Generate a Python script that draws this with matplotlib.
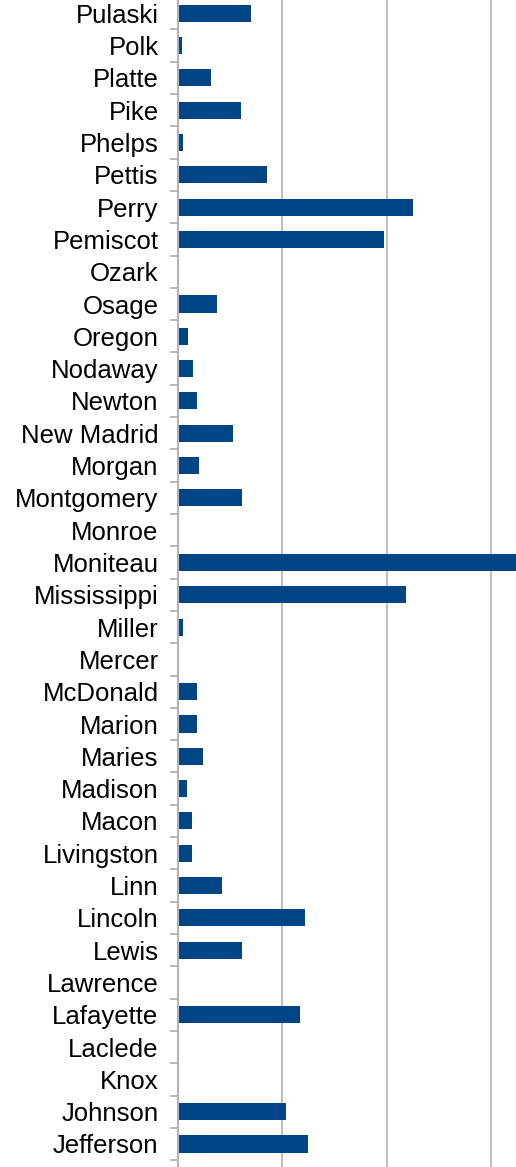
import numpy as np
import matplotlib
matplotlib.use('Agg')
import matplotlib.pyplot as plt
from matplotlib.ticker import FixedLocator, MultipleLocator

# Counties, bottom to top
counties = ['Jefferson', 'Johnson', 'Knox', 'Laclede', 'Lafayette', 'Lawrence',
            'Lewis', 'Lincoln', 'Linn', 'Livingston', 'Macon', 'Madison',
            'Maries', 'Marion', 'McDonald', 'Mercer', 'Miller', 'Mississippi',
            'Moniteau', 'Monroe', 'Montgomery', 'Morgan', 'New Madrid', 'Newton',
            'Nodaway', 'Oregon', 'Osage', 'Ozark', 'Pemiscot', 'Perry',
            'Pettis', 'Phelps', 'Pike', 'Platte', 'Polk', 'Pulaski']

values = [12.4, 10.3, 0, 0, 11.7, 0,
          6.1, 12.2, 4.2, 1.3, 1.3, 0.9,
          2.4, 1.8, 1.8, 0, 0.5, 21.8,
          33.0, 0, 6.1, 2.0, 5.3, 1.8,
          1.4, 1.0, 3.7, 0, 19.7, 22.5,
          8.5, 0.5, 6.0, 3.2, 0.4, 7.0]

plt.rcParams['font.family'] = ['Liberation Sans', 'DejaVu Sans']

fig = plt.figure(figsize=(5.16, 11.67), dpi=100)
ax = fig.add_axes([178 / 516, 0, 1 - 178 / 516, 1])

y = np.arange(len(counties))
ax.barh(y, values, height=0.53, color='#004586', zorder=3)

ax.set_xlim(0, 32.35)
ax.set_ylim(-0.712, 35.41)

ax.xaxis.set_major_locator(MultipleLocator(10))
ax.grid(axis='x', color='#b3b3b3', linewidth=1.2, zorder=0)
ax.tick_params(axis='x', length=0, labelbottom=False)

ax.set_yticks(y)
ax.set_yticklabels(counties, fontsize=18.5, color='black')
ax.tick_params(axis='y', which='major', length=0, pad=14)
ax.yaxis.set_minor_locator(FixedLocator(np.arange(-0.5, len(counties), 1.0)))
ax.tick_params(axis='y', which='minor', length=6, width=1.3, color='#b3b3b3')

for side in ['top', 'right', 'bottom']:
    ax.spines[side].set_visible(False)
ax.spines['left'].set_color('#b3b3b3')
ax.spines['left'].set_linewidth(1.5)
ax.spines['left'].set_zorder(4)

fig.savefig('out.png', dpi=100, facecolor='white')
